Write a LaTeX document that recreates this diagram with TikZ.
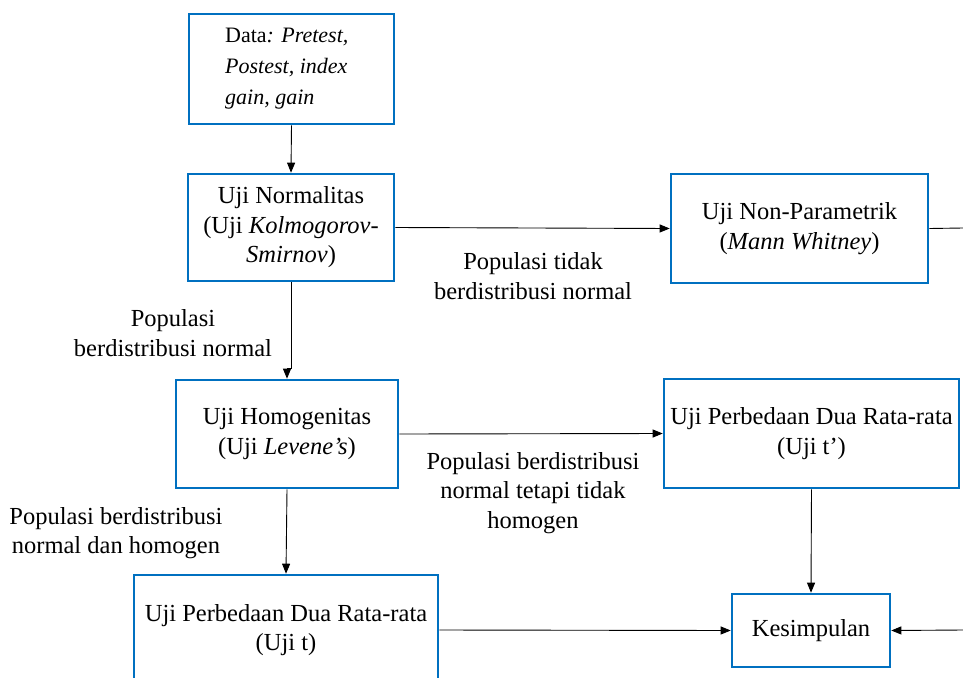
\documentclass[tikz,border=0pt]{standalone}
\usepackage{fontspec}
\setmainfont{Liberation Serif}
\usetikzlibrary{arrows.meta}
\definecolor{boxblue}{RGB}{0,112,192}
\newcommand{\mainfs}{\fontsize{24.5}{29.5}\selectfont}
\newcommand{\datafs}{\fontsize{22}{31}\selectfont}
\begin{document}
\begin{tikzpicture}[x=1pt,y=-1pt,
  blk/.style={draw=boxblue, line width=2.6pt, inner sep=0pt, align=center, font=\mainfs},
  lbl/.style={align=center, font=\mainfs, inner sep=0pt},
  conn/.style={line width=0.9pt, -{Triangle[length=10pt,width=8pt]}},
  plainline/.style={line width=0.9pt}]
\clip (0,0) rectangle (963,677);
\fill[white] (0,0) rectangle (963,677);

% boxes
\node[blk, minimum width=205pt, minimum height=110pt] (data) at (291.5,69) {};
\node[align=left, anchor=west, inner sep=0pt, font=\datafs] (datatext) at (225,69)
  {Data\textit{: Pretest,}\\\textit{Postest, index}\\\textit{gain, gain}};
\node[blk, minimum width=206pt, minimum height=107pt] (norm) at (291,227.5)
  {Uji Normalitas\\(Uji \textit{Kolmogorov-}\\\textit{Smirnov})};
\node[blk, minimum width=257pt, minimum height=109pt] (nonpar) at (799.5,228.5)
  {Uji Non-Parametrik\\(\textit{Mann Whitney})};
\node[blk, minimum width=222pt, minimum height=108pt] (homo) at (287,434)
  {Uji Homogenitas\\(Uji \textit{Levene's})};
\node[blk, minimum width=295pt, minimum height=109pt] (tprime) at (811.5,433.5)
  {Uji Perbedaan Dua Rata-rata\\(Uji t’)};
\node[blk, minimum width=158pt, minimum height=73pt] (kes) at (811,630.5)
  {Kesimpulan};
\node[blk, minimum width=304pt, minimum height=110pt] (ujit) at (286,630)
  {Uji Perbedaan Dua Rata-rata\\(Uji t)};

% free ends at the right edge
\coordinate (rtop) at (963,228);
\coordinate (rbot) at (963,630);
\coordinate (jog1) at (291,368);

% labels
\node[lbl] (l1) at (533,276) {Populasi tidak\\berdistribusi normal};
\node[lbl] (l2) at (173,333) {Populasi\\berdistribusi normal};
\node[lbl] (l3) at (533,493) {Populasi berdistribusi\\normal tetapi tidak\\homogen};
\node[lbl] (l4) at (116,533) {Populasi berdistribusi\\normal dan homogen};

% connectors
\draw[conn] (data.south) -- (norm.north);
\draw[conn] (norm.east) -- (nonpar.west);
\draw[plainline] (nonpar.east) -- (rtop);
\draw[conn] (norm.south) -- (jog1) -| (homo.north);
\draw[conn] (homo.east) -- (tprime.west);
\draw[conn] (homo.south) -- (ujit.north);
\draw[conn] (tprime.south) -- (kes.north);
\draw[conn] (ujit.east) -- (kes.west);
\draw[conn] (rbot) -- (kes.east);
\end{tikzpicture}
\end{document}
